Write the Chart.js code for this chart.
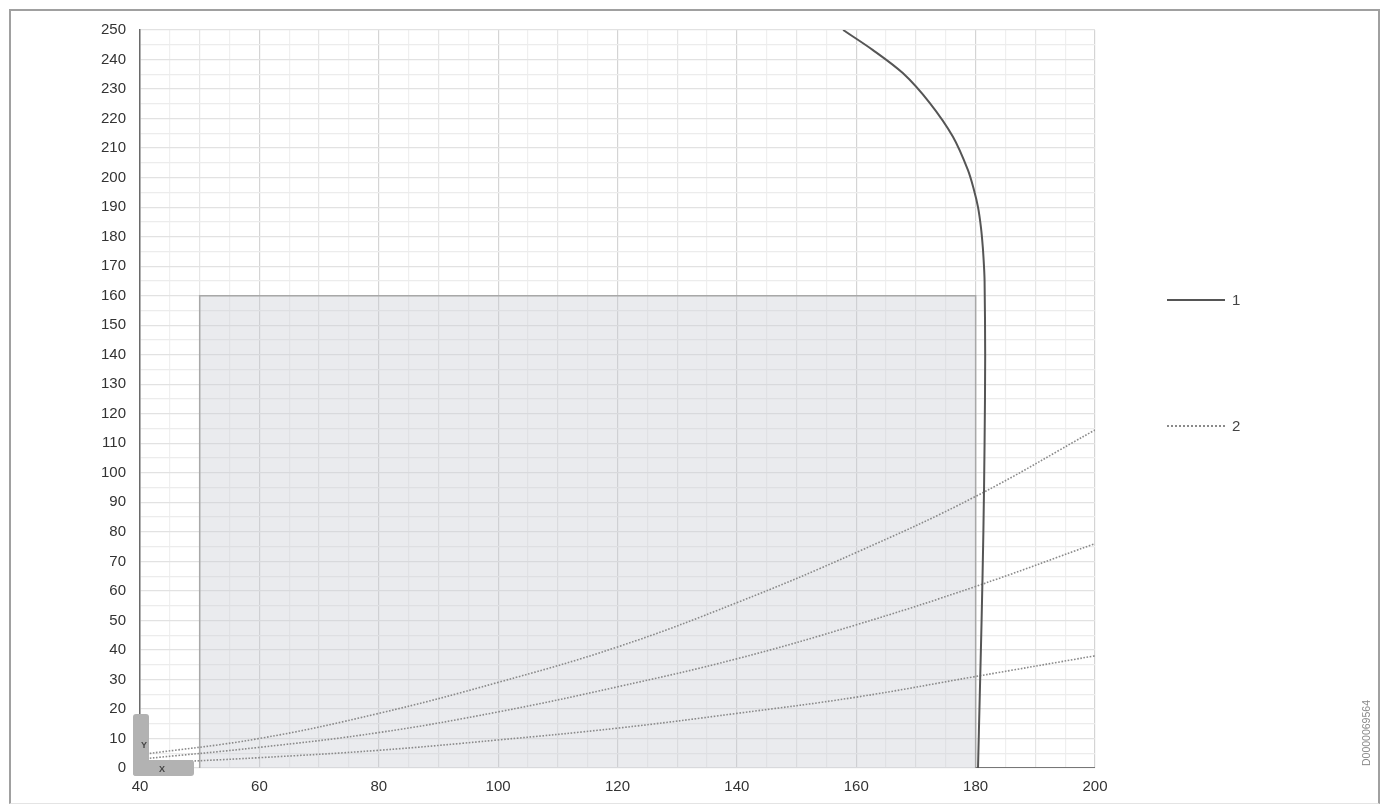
<!DOCTYPE html>
<html>
<head>
<meta charset="utf-8">
<script src="https://cdn.jsdelivr.net/npm/chart.js@4/dist/chart.umd.min.js"></script>
<style>
  html,body{margin:0;padding:0;background:#fff;}
  body{width:1382px;height:810px;position:relative;overflow:hidden;font-family:"Liberation Sans",Arial,sans-serif;}
  #frame{position:absolute;left:9px;top:9px;width:1371px;height:795px;border:2px solid #a0a0a0;border-bottom:1px solid #e4e4e4;box-sizing:border-box;}
  #wrap{position:absolute;left:0;top:0;width:1382px;height:810px;}
  .leg{position:absolute;left:1167px;width:58px;height:0;}
  .legtxt{position:absolute;left:1232px;font-size:15px;color:#444;line-height:16px;}
  #code{position:absolute;left:1360px;top:766px;transform-origin:0 0;transform:rotate(-90deg);font-size:10.5px;color:#888;white-space:nowrap;}
</style>
</head>
<body>
<div id="frame"></div>
<div id="wrap"><canvas id="c" width="1382" height="810"></canvas></div>
<div class="leg" style="top:299px;border-top:2px solid #555;"></div>
<div class="legtxt" style="top:292px;">1</div>
<div class="leg" style="top:425px;border-top:2px dotted #8a8a8a;"></div>
<div class="legtxt" style="top:418px;">2</div>
<div id="code">D0000069564</div>
<script>
// ---- data ----
const xTicksMin = 40, xTicksMax = 200;
const yTicksMin = 0, yTicksMax = 250;

// curve 1 (solid)
const curve1X = [157.8,162.8,167.8,172.3,176.2,178.7,179.7,180.4,180.9,181.2,181.4,181.5,181.6,181.5,181.3,181.0,180.7,180.4];
const curve1Y = [250,243.2,235.4,225.3,213.8,202.6,196,190,183,176.5,170,165,140,110,80,50,25,0];

// curves 2 (dotted)
const curve2X    = [40,60,80,100,120,140,160,180,200];
const curve2High = [4.5,10,18.5,29,41,56,73,92,114.5];
const curve2Mid  = [3,7,12,19,27.5,37,48.5,61.5,76];
const curve2Low  = [1.5,3.5,6,9.5,13.5,18.5,24,31,38];

// shaded area corners
const areaX = [50,50,180,180];
const areaY = [0,160,160,0];

// base line segment right of area
const baseX = [180,200];
const baseY = [0,0];

const pts = (xs, ys) => xs.map((x,i)=>({x:x,y:ys[i]}));

const iconPlugin = {
  id:'icon',
  afterDatasetsDraw(chart){
    const ctx = chart.ctx;
    const x0 = chart.scales.x.getPixelForValue(40);
    const y0 = chart.scales.y.getPixelForValue(0);
    ctx.save();
    ctx.fillStyle = '#b2b2b2';
    ctx.beginPath();
    ctx.roundRect(x0-7, y0-54, 16, 62, 3);
    ctx.fill();
    ctx.beginPath();
    ctx.roundRect(x0-7, y0-8, 61, 16, 3);
    ctx.fill();
    ctx.fillStyle = '#444';
    ctx.font = 'bold 9px "Liberation Sans", Arial, sans-serif';
    ctx.textAlign = 'center';
    ctx.textBaseline = 'middle';
    ctx.fillText('Y', x0+4, y0-22);
    ctx.fillText('X', x0+22, y0+2);
    ctx.restore();
  }
};

const gridX = (c) => {
  const v = c.tick ? c.tick.value : 0;
  if (v % 20 === 0) return '#d4d4d4';
  if (v % 10 === 0) return '#e6e6e6';
  return '#efefef';
};
const gridY = (c) => {
  const v = c.tick ? c.tick.value : 0;
  if (v % 10 === 0) return '#e2e2e2';
  return '#ececec';
};

new Chart(document.getElementById('c'), {
  type: 'scatter',
  data: {
    datasets: [
      {
        label: 'area',
        data: pts(areaX, areaY),
        showLine: true,
        tension: 0,
        borderColor: '#a8a8a8',
        borderWidth: 1.5,
        backgroundColor: 'rgba(200,202,210,0.38)',
        fill: 'origin',
        pointRadius: 0,
        order: 5
      },
      {
        label: 'base',
        data: pts(baseX, baseY),
        showLine: true,
        borderColor: '#777',
        borderWidth: 2,
        pointRadius: 0,
        order: 4
      },
      {
        label: '2a',
        data: pts(curve2X, curve2High),
        showLine: true, tension: 0.4,
        borderColor: '#8a8a8a', borderWidth: 1.6, borderDash: [1.6,1.6],
        pointRadius: 0, order: 3
      },
      {
        label: '2b',
        data: pts(curve2X, curve2Mid),
        showLine: true, tension: 0.4,
        borderColor: '#8a8a8a', borderWidth: 1.6, borderDash: [1.6,1.6],
        pointRadius: 0, order: 3
      },
      {
        label: '2c',
        data: pts(curve2X, curve2Low),
        showLine: true, tension: 0.4,
        borderColor: '#8a8a8a', borderWidth: 1.6, borderDash: [1.6,1.6],
        pointRadius: 0, order: 3
      },
      {
        label: '1',
        data: pts(curve1X, curve1Y),
        showLine: true, tension: 0.3,
        borderColor: '#555', borderWidth: 2,
        pointRadius: 0, order: 1
      }
    ]
  },
  options: {
    responsive: false,
    animation: false,
    layout: { padding: { left: 0, top: 30, right: 287, bottom: 0 } },
    plugins: { legend: { display: false }, tooltip: { enabled: false } },
    scales: {
      x: {
        type: 'linear', min: xTicksMin, max: xTicksMax,
        afterFit(s){ s.height = 42; },
        ticks: {
          stepSize: 5, autoSkip: false, maxRotation: 0, padding: 10,
          color: '#333', font: { size: 15, family: '"Liberation Sans", Arial, sans-serif' },
          callback: v => (v % 20 === 0 ? String(v) : '')
        },
        grid: { color: gridX, lineWidth: 1.2, drawTicks: false },
        border: { display: false }
      },
      y: {
        type: 'linear', min: yTicksMin, max: yTicksMax,
        afterFit(s){ s.width = 140; },
        ticks: {
          stepSize: 5, autoSkip: false, padding: 14,
          color: '#333', font: { size: 15, family: '"Liberation Sans", Arial, sans-serif' },
          callback: v => (v % 10 === 0 ? String(v) : '')
        },
        grid: { color: gridY, lineWidth: 1.2, drawTicks: false },
        border: { display: true, color: '#6a6a6a', width: 1.5 }
      }
    }
  },
  plugins: [iconPlugin]
});
</script>
</body>
</html>
